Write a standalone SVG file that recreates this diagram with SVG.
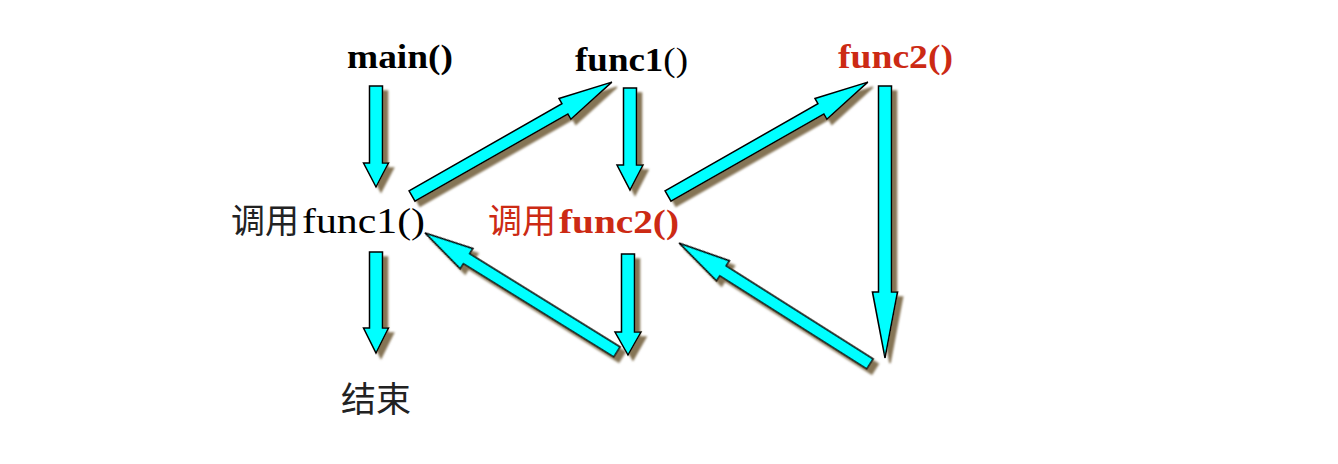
<svg xmlns="http://www.w3.org/2000/svg" width="1338" height="464" viewBox="0 0 1338 464">
  <style>
    .lbl { font-family: "Liberation Serif", "Noto Sans CJK SC", serif; font-size: 33px; fill: #000; }
    .b { font-weight: bold; }
    .red { fill: #cc2a14; }
    .cjk { font-family: "Noto Sans CJK SC", sans-serif; font-size: 34px; fill: #222; }
    .red .cjk { fill: #cc2a14; }
    .arrow { fill: #00ffff; stroke: #000; stroke-width: 1.5; stroke-linejoin: miter; }
  </style>
  <defs>
    <filter id="shadow" filterUnits="userSpaceOnUse" x="0" y="0" width="1338" height="464">
      <feGaussianBlur in="SourceAlpha" stdDeviation="1.2" result="b"/>
      <feOffset in="b" dx="5" dy="5" result="o"/>
      <feFlood flood-color="#857455" result="c"/>
      <feComposite in="c" in2="o" operator="in" result="s"/>
      <feMerge>
        <feMergeNode in="s"/>
        <feMergeNode in="SourceGraphic"/>
      </feMerge>
    </filter>
  </defs>
  <rect width="1338" height="464" fill="#fff"/>

  <g id="node-main">
    <text class="lbl b" x="347" y="68" textLength="106" lengthAdjust="spacingAndGlyphs">main()</text>
  </g>
  <g id="node-func1">
    <text class="lbl" x="575" y="71" textLength="113" lengthAdjust="spacingAndGlyphs"><tspan class="b">func1</tspan>()</text>
  </g>
  <g id="node-func2">
    <text class="lbl b red" x="838" y="68" textLength="115" lengthAdjust="spacingAndGlyphs">func2()</text>
  </g>
  <g id="node-call-func1">
    <text class="lbl" y="233"><tspan class="cjk" x="231">调用</tspan><tspan x="302" style="font-size:35px" textLength="123" lengthAdjust="spacingAndGlyphs">func1()</tspan></text>
  </g>
  <g id="node-call-func2">
    <text class="lbl red" y="233"><tspan class="cjk" x="488">调用</tspan><tspan class="b" x="559" style="font-size:34px" textLength="120" lengthAdjust="spacingAndGlyphs">func2()</tspan></text>
  </g>
  <g id="node-end">
    <text class="lbl cjk" x="341" y="412" style="font-size:35px">结束</text>
  </g>

  <g id="connectors" filter="url(#shadow)">
    <!-- main -> call func1 -->
    <path class="arrow" transform="translate(376,86) rotate(90)" d="M0,-6.5 H77 V-12.5 L101,0 L77,12.5 V6.5 H0 Z"/>
    <!-- call func1 -> end -->
    <path class="arrow" transform="translate(376,252) rotate(90)" d="M0,-6.5 H76 V-12.5 L101,0 L76,12.5 V6.5 H0 Z"/>
    <!-- func1 -> call func2 -->
    <path class="arrow" transform="translate(630,88) rotate(90)" d="M0,-6.5 H77 V-13 L102,0 L77,13 V6.5 H0 Z"/>
    <!-- call func2 -> func1 end -->
    <path class="arrow" transform="translate(628,254) rotate(90)" d="M0,-6.5 H78 V-13 L101,0 L78,13 V6.5 H0 Z"/>
    <!-- func2 down -->
    <path class="arrow" transform="translate(885,86) rotate(90)" d="M0,-6.5 H206 V-12.5 L272,0 L206,12.5 V6.5 H0 Z"/>
    <!-- call func1 -> func1 -->
    <path class="arrow" transform="translate(412,196) rotate(-29.68)" d="M0,-6 H176 V-12 L230,0 L176,12 V6 H0 Z"/>
    <!-- call func2 -> func2 -->
    <path class="arrow" transform="translate(668,196) rotate(-29.68)" d="M0,-6 H176 V-12 L230,0 L176,12 V6 H0 Z"/>
    <!-- func1 end -> call func1 (return) -->
    <path class="arrow" transform="translate(617,352) rotate(-148.2)" d="M0,-6 H177 V-12 L226,0 L177,12 V6 H0 Z"/>
    <!-- func2 end -> call func2 (return) -->
    <path class="arrow" transform="translate(870,364) rotate(-147.65)" d="M0,-6 H174 V-12 L226,0 L174,12 V6 H0 Z"/>
  </g>
</svg>
